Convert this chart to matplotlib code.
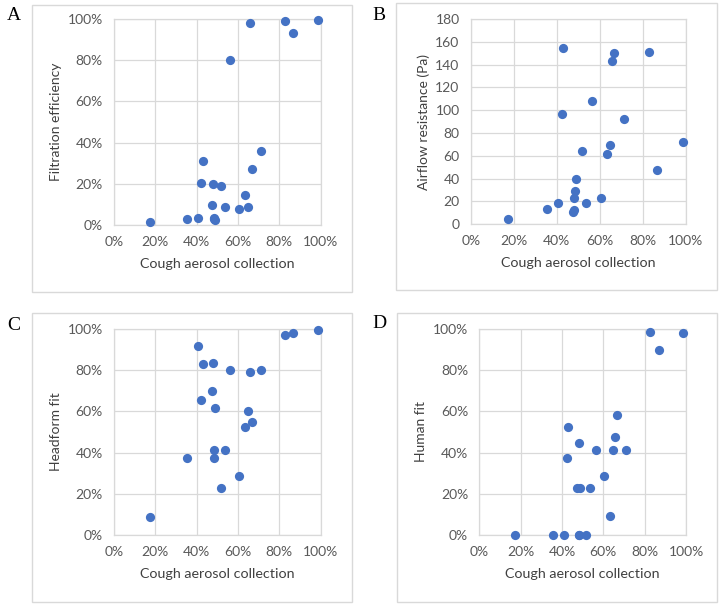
import matplotlib
matplotlib.use("Agg")
import matplotlib.pyplot as plt
from matplotlib.patches import Rectangle
from matplotlib.ticker import FuncFormatter, MultipleLocator

# Cough aerosol collection (%) shared by all panels
cough = [17.4, 35.5, 40.8, 42.3, 43.1, 47.4, 48.0, 48.2, 48.4, 48.8, 51.7,
         53.5, 56.3, 60.4, 63.2, 64.8, 65.7, 66.6, 71.2, 82.8, 86.7, 98.6]

filtration = [1.6, 2.8, 3.4, 20.2, 30.9, 9.7, 19.9, 3.6, 3.0, 2.4, 18.9,
              8.6, 79.9, 7.8, 14.7, 8.6, 98.2, 27.2, 36.1, 98.9, 93.0, 99.4]

airflow = [5.0, 13.7, 18.7, 96.4, 154.3, 11.1, 23.1, 12.6, 29.2, 39.7, 64.0,
           18.7, 108.1, 23.4, 61.4, 69.3, 142.9, 150.2, 92.3, 151.1, 47.6, 71.9]

headform = [8.9, 37.5, 91.9, 65.5, 83.2, 69.9, 83.5, 37.4, 41.4, 61.7, 23.0,
            41.3, 80.3, 28.6, 52.4, 60.0, 79.3, 54.7, 80.3, 97.1, 98.1, 99.7]

human = [0.0, 0.0, 0.0, 37.5, 52.4, 23.0, 0.0, 44.5, 0.0, 23.0, 0.0,
         23.0, 41.3, 28.6, 9.1, 41.3, 47.4, 58.4, 41.3, 98.4, 89.8, 98.1]

panel_letters = ["A", "B", "C", "D"]
y_labels = ["Filtration efficiency", "Airflow resistance (Pa)", "Headform fit", "Human fit"]
x_label = "Cough aerosol collection"

W, H = 720, 604
fig = plt.figure(figsize=(W / 100, H / 100), dpi=100)

FONT = "Lato"
GRID = "#d9d9d9"
TICKC = "#595959"
LABC = "#404040"
BLUE = "#4472C4"

# pixel layouts: (x0, x100, ybottom, ytop)
axes_px = [(114, 320.7, 225, 19), (470.7, 685.7, 224.3, 19),
           (114, 320.7, 535, 329), (479.3, 686, 535, 329)]
boxes_px = [(32, 5, 352, 292), (396, 3, 717, 290), (32, 313, 352, 602), (397, 313, 717, 602)]
letters_px = [(7, 16), (372, 16), (7, 326), (372, 324)]

series = [filtration, airflow, headform, human]
for i in range(4):
    bx0, by0, bx1, by1 = boxes_px[i]
    fig.patches.append(Rectangle((bx0 / W, 1 - by1 / H), (bx1 - bx0) / W, (by1 - by0) / H,
                                 transform=fig.transFigure, fill=False,
                                 edgecolor=GRID, linewidth=1.0))
    lx, ly = letters_px[i]
    fig.text(lx / W, 1 - ly / H, panel_letters[i], family="Liberation Serif",
             fontsize=14, va="center", ha="left", color="black")

    x0, x1, yb, yt = axes_px[i]
    ax = fig.add_axes([x0 / W, 1 - yb / H, (x1 - x0) / W, (yb - yt) / H])
    ax.scatter(cough, series[i], s=44, color=BLUE, zorder=3, clip_on=False, linewidths=0)
    ax.set_xlim(0, 100)
    ax.xaxis.set_major_locator(MultipleLocator(20))
    ax.xaxis.set_major_formatter(FuncFormatter(lambda v, p: f"{v:.0f}%"))
    if i == 1:
        ax.set_ylim(0, 180)
        ax.yaxis.set_major_locator(MultipleLocator(20))
    else:
        ax.set_ylim(0, 100)
        ax.yaxis.set_major_locator(MultipleLocator(20))
        ax.yaxis.set_major_formatter(FuncFormatter(lambda v, p: f"{v:.0f}%"))
    ax.grid(True, color=GRID, linewidth=0.9, zorder=0)
    ax.set_axisbelow(True)
    for s in ax.spines.values():
        s.set_color(GRID)
        s.set_linewidth(0.9)
    ax.tick_params(length=0, labelsize=10, labelcolor=TICKC, pad=8)
    for lab in ax.get_xticklabels() + ax.get_yticklabels():
        lab.set_family(FONT)
    ax.set_xlabel(x_label, family=FONT, fontsize=10.3, color=LABC, labelpad=7)
    ax.set_ylabel(y_labels[i], family=FONT, fontsize=10, color=LABC, labelpad=4)

fig.savefig("out.png", dpi=100, facecolor="white")
